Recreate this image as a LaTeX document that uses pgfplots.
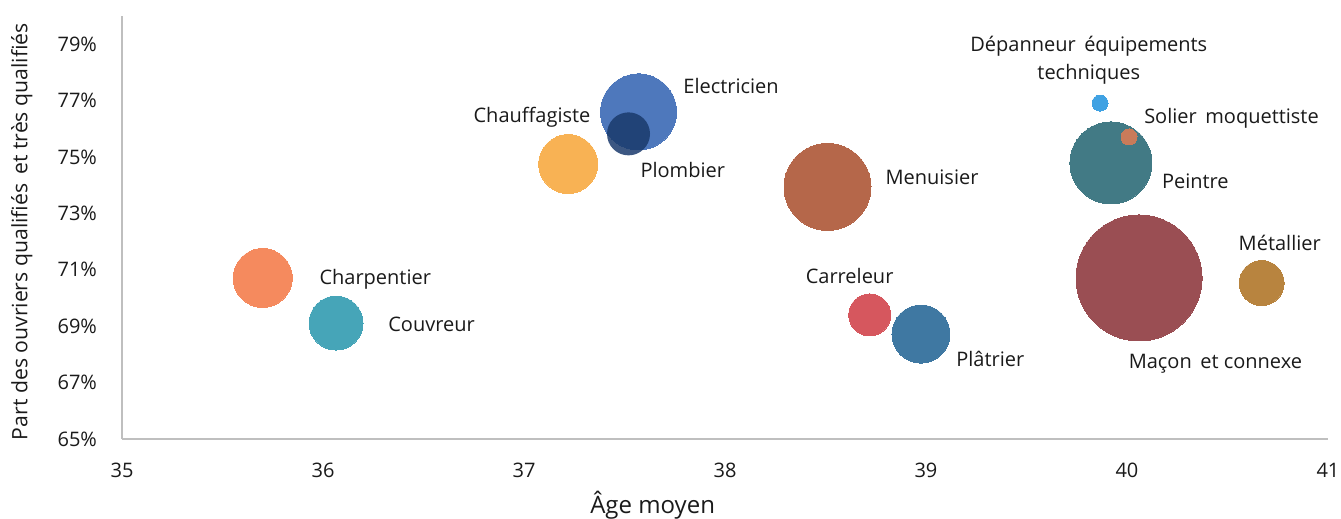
\documentclass[border=0pt]{standalone}
\usepackage{fontspec}
\setmainfont{Open Sans}
\usepackage{pgfplots}
\pgfplotsset{compat=1.18}
\definecolor{axisgray}{HTML}{BFBFBF}
\definecolor{txt}{HTML}{1A1A1A}
\definecolor{cCharp}{HTML}{F58A5E}
\definecolor{cCouv}{HTML}{46A5B8}
\definecolor{cChauf}{HTML}{F8B254}
\definecolor{cElec}{HTML}{4E78BC}
\definecolor{cPlomb}{HTML}{1A3A6C}
\definecolor{cMenu}{HTML}{B5674A}
\definecolor{cCarr}{HTML}{D6575E}
\definecolor{cPlat}{HTML}{3F78A2}
\definecolor{cDep}{HTML}{40A2E3}
\definecolor{cSol}{HTML}{C97B5A}
\definecolor{cPeint}{HTML}{427A85}
\definecolor{cMacon}{HTML}{9A4E53}
\definecolor{cMetal}{HTML}{B8843F}
\tikzset{lbl/.style={font=\fontsize{10}{14}\selectfont, text=txt, align=center}}
\begin{document}
\begin{tikzpicture}
\useasboundingbox (0,0) rectangle (670.5pt,259.5pt);
\begin{axis}[
  at={(61pt,40pt)}, anchor=south west,
  scale only axis, width=603pt, height=211.5pt,
  xmin=35, xmax=41, ymin=65, ymax=80,
  xtick={35,36,...,41}, ytick={65,67,...,79},
  yticklabel={\pgfmathprintnumber{\tick}\%},
  /pgf/number format/assume math mode=true,
  axis x line=bottom, axis y line=left,
  axis line style={-, draw=axisgray, line width=0.8pt},
  major tick length=0pt,
  tick label style={font=\fontsize{10}{12}\selectfont, text=txt},
  xticklabel style={yshift=-8.5pt},
  yticklabel style={xshift=-9pt},
  xlabel={Âge moyen},
  xlabel style={at={(axis description cs:0.44,-0.156)}, anchor=center, font=\fontsize{12}{14}\selectfont, text=txt},
  ylabel={Part des ouvriers qualifiés\, et très qualifiés},
  ylabel style={at={(axis description cs:-0.083,0.49)}, anchor=center, font=\fontsize{10.6}{13}\selectfont, text=txt},
  clip=false,
  every axis plot/.append style={only marks, mark=*, line width=0pt},
]
\addplot[color=cCharp, mark size=14.75pt] coordinates {(35.70,70.71)};
\addplot[color=cCouv, mark size=13.5pt] coordinates {(36.065,69.11)};
\addplot[color=cChauf, mark size=14.75pt] coordinates {(37.22,74.75)};
\addplot[color=cElec, mark size=19pt] coordinates {(37.57,76.60)};
\addplot[color=cPlomb, mark size=10.75pt, mark options={fill opacity=0.85, draw opacity=0}] coordinates {(37.52,75.82)};
\addplot[color=cMenu, mark size=21.75pt] coordinates {(38.51,73.94)};
\addplot[color=cCarr, mark size=10.5pt] coordinates {(38.72,69.40)};
\addplot[color=cPlat, mark size=14.5pt] coordinates {(38.975,68.72)};
\addplot[color=cDep, mark size=4pt] coordinates {(39.866,76.91)};
\addplot[color=cPeint, mark size=20.5pt] coordinates {(39.92,74.79)};
\addplot[color=cSol, mark size=4pt] coordinates {(40.01,75.71)};
\addplot[color=cMacon, mark size=31.5pt] coordinates {(40.06,70.71)};
\addplot[color=cMetal, mark size=11.25pt] coordinates {(40.67,70.53)};
\node[lbl] at (axis cs:36.26,70.67) {Charpentier};
\node[lbl] at (axis cs:36.54,69.08) {Couvreur};
\node[lbl] at (axis cs:37.04,76.42) {Chauffagiste};
\node[lbl] at (axis cs:38.03,77.52) {Electricien};
\node[lbl] at (axis cs:37.79,74.54) {Plombier};
\node[lbl] at (axis cs:39.03,74.29) {Menuisier};
\node[lbl] at (axis cs:39.81,78.44) {Dépanneur\, équipements\\techniques};
\node[lbl] at (axis cs:40.52,76.38) {Solier\, moquettiste};
\node[lbl] at (axis cs:40.34,74.15) {Peintre};
\node[lbl] at (axis cs:40.76,71.95) {Métallier};
\node[lbl] at (axis cs:38.62,70.78) {Carreleur};
\node[lbl] at (axis cs:39.32,67.84) {Plâtrier};
\node[lbl] at (axis cs:40.44,67.66) {Maçon\, et connexe};
\end{axis}
\end{tikzpicture}
\end{document}
